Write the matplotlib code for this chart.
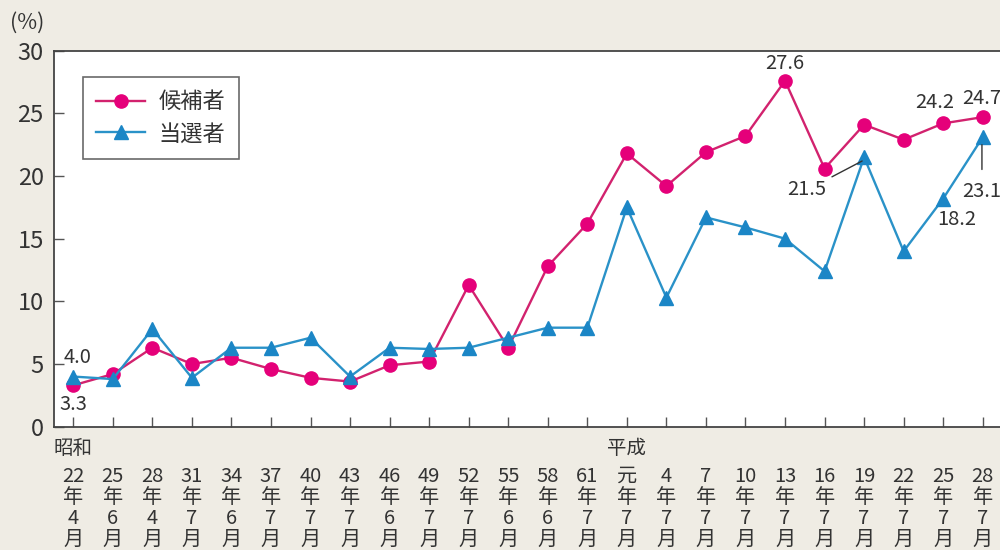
import matplotlib
matplotlib.use("Agg")
import matplotlib.pyplot as plt

plt.rcParams['font.family'] = ['Noto Sans CJK JP', 'DejaVu Sans']

# Election dates (era year / month), vertical labels
years = ["22", "25", "28", "31", "34", "37", "40", "43", "46", "49", "52", "55",
         "58", "61", "元", "4", "7", "10", "13", "16", "19", "22", "25", "28"]
months = ["4", "6", "4", "7", "6", "7", "7", "7", "6", "7", "7", "6",
          "6", "7", "7", "7", "7", "7", "7", "7", "7", "7", "7", "7"]

# Share of women (%)
candidates = [3.3, 4.2, 6.3, 5.0, 5.5, 4.6, 3.9, 3.6, 4.9, 5.2, 11.3, 6.3,
              12.8, 16.2, 21.8, 19.2, 21.9, 23.2, 27.6, 20.6, 24.1, 22.9, 24.2, 24.7]
elected = [4.0, 3.8, 7.8, 3.9, 6.3, 6.3, 7.1, 4.0, 6.3, 6.2, 6.3, 7.1,
           7.9, 7.9, 17.5, 10.3, 16.7, 15.9, 15.0, 12.4, 21.5, 14.0, 18.2, 23.1]

series_names = ["候補者", "当選者"]
era_labels = [(0, "昭和"), (14, "平成")]

BG = "#efece4"
PINK_LINE = "#d2226e"
PINK = "#e5007a"
BLUE_LINE = "#2a92c8"
BLUE = "#1b86c6"
TXT = "#333333"

fig = plt.figure(figsize=(10, 5.5), dpi=100, facecolor=BG)
ax = fig.add_axes([0.0535, 0.2242, 0.949, 0.6836])
ax.set_facecolor("white")

x = list(range(len(years)))
ax.plot(x, candidates, color=PINK_LINE, lw=1.7, marker="o", ms=9.5,
        mfc=PINK, mec=PINK, label=series_names[0], zorder=3)
ax.plot(x, elected, color=BLUE_LINE, lw=1.7, marker="^", ms=10.5,
        mfc=BLUE, mec=BLUE, label=series_names[1], zorder=3)

ax.set_xlim(-0.5, 23.5)
ax.set_ylim(0, 30)
ax.set_yticks(range(0, 31, 5))
ax.set_xticks(x)
ax.set_xticklabels([f"{y}\n年\n{m}\n月" for y, m in zip(years, months)],
                   linespacing=1.0, va="top")

for s in ax.spines.values():
    s.set_color("#444444")
    s.set_linewidth(1.3)

ax.tick_params(axis="y", direction="in", length=7, width=1, color="#555555",
               labelsize=17, labelcolor=TXT, pad=7)
ax.tick_params(axis="x", direction="in", length=7, width=1, color="#555555",
               labelsize=14.5, labelcolor=TXT, pad=28)

for xi, name in era_labels:
    ax.annotate(name, xy=(xi, 0), xycoords=("data", "axes fraction"),
                xytext=(0, -15.5), textcoords="offset points",
                ha="center", va="center", fontsize=14, color=TXT)

fig.text(0.027, 0.958, "(%)", ha="center", va="center", fontsize=15.5, color=TXT)

# Value labels
lab = dict(fontsize=14.5, color=TXT, ha="center", va="center", zorder=4)
ax.text(0, 1.8, f"{candidates[0]:.1f}", **lab)
ax.text(-0.25, 5.56, f"{elected[0]:.1f}", **{**lab, "ha": "left"})
ax.text(18, 28.95, f"{candidates[18]:.1f}", **lab)
ax.text(21.79, 25.85, f"{candidates[22]:.1f}", **lab)
ax.text(22.98, 26.2, f"{candidates[23]:.1f}", **lab)
ax.text(22.35, 16.56, f"{elected[22]:.1f}", **lab)
ax.annotate(f"{elected[20]:.1f}", xy=(19.95, 21.2), xytext=(18.56, 18.9),
            ha="center", va="center", fontsize=14.5, color=TXT,
            arrowprops=dict(arrowstyle="-", color="#333333", lw=1,
                            shrinkA=2, shrinkB=0))
ax.annotate(f"{elected[23]:.1f}", xy=(22.98, 22.5), xytext=(22.98, 18.8),
            ha="center", va="center", fontsize=14.5, color=TXT,
            arrowprops=dict(arrowstyle="-", color="#333333", lw=1,
                            shrinkA=6, shrinkB=0))

leg = ax.legend(loc="upper left", bbox_to_anchor=(0.031, 0.93), borderaxespad=0,
                fontsize=16, frameon=True, fancybox=False, handlelength=2.2,
                borderpad=0.6, labelspacing=0.4, handletextpad=0.6)
leg.get_frame().set_edgecolor("#444444")
leg.get_frame().set_linewidth(1.2)
for t in leg.get_texts():
    t.set_color(TXT)

fig.savefig("out.png", dpi=100, facecolor=BG)
